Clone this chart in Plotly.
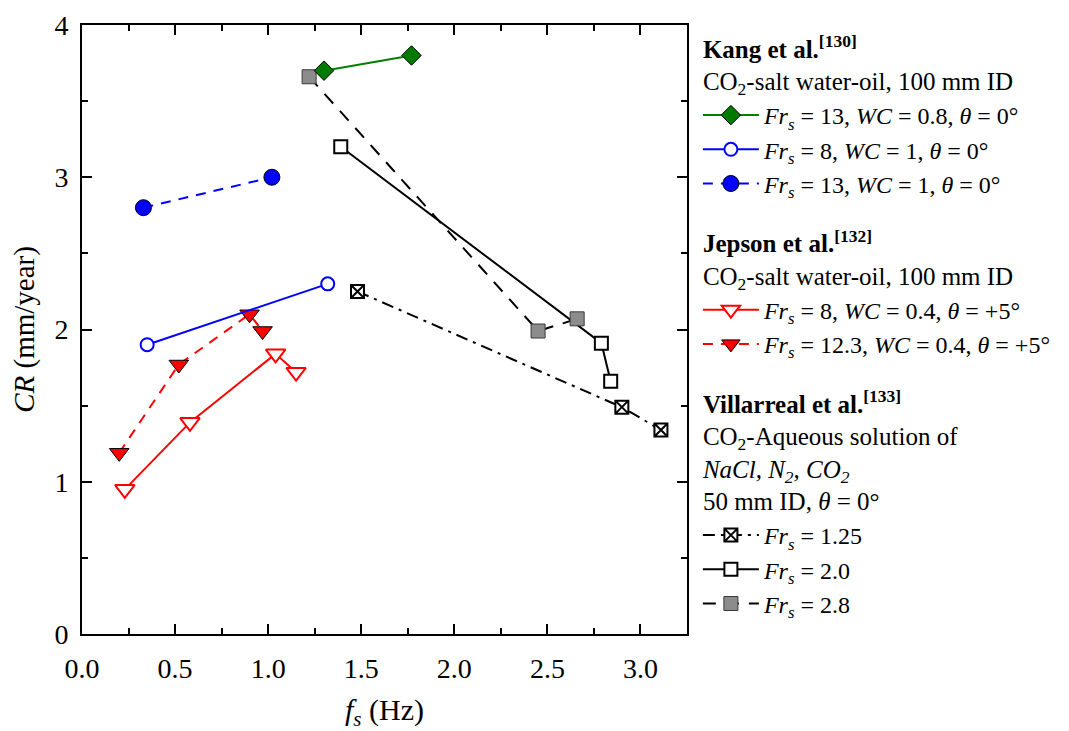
import plotly.graph_objects as go

FONT = "Liberation Serif"

# ---- data ----
# Kang et al. [130]
kang_a_x = [1.30, 1.77]          # Fr_s = 13, WC = 0.8
kang_a_y = [3.70, 3.80]
kang_b_x = [0.35, 1.32]          # Fr_s = 8, WC = 1
kang_b_y = [1.90, 2.30]
kang_c_x = [0.33, 1.02]          # Fr_s = 13, WC = 1
kang_c_y = [2.80, 3.00]
# Jepson et al. [132]
jep_a_x = [0.23, 0.58, 1.04, 1.15]   # Fr_s = 8, WC = 0.4
jep_a_y = [0.95, 1.39, 1.84, 1.72]
jep_b_x = [0.20, 0.52, 0.90, 0.97]   # Fr_s = 12.3, WC = 0.4
jep_b_y = [1.19, 1.77, 2.10, 1.99]
# Villarreal et al. [133]
vil_a_x = [1.48, 2.90, 3.11]     # Fr_s = 1.25
vil_a_y = [2.25, 1.49, 1.34]
vil_b_x = [1.39, 2.79, 2.84]     # Fr_s = 2.0
vil_b_y = [3.20, 1.91, 1.66]
vil_c_x = [1.22, 2.45, 2.66]     # Fr_s = 2.8
vil_c_y = [3.66, 1.99, 2.07]

x_ticks = [0.0, 0.5, 1.0, 1.5, 2.0, 2.5, 3.0]
y_ticks = [0, 1, 2, 3, 4]

LEG_TITLE = 25
LEG = 24
FR = "<i>Fr<sub>s</sub></i>"
TH = "<i>θ</i>"
WC = "<i>WC</i>"

kang_title = "<b>Kang et al.</b><sup><b>[130]</b></sup><br>CO<sub>2</sub>-salt water-oil, 100 mm ID"
jep_title = "<b>Jepson et al.</b><sup><b>[132]</b></sup><br>CO<sub>2</sub>-salt water-oil, 100 mm ID"
vil_title = ("<b>Villarreal et al.</b><sup><b>[133]</b></sup><br>CO<sub>2</sub>-Aqueous solution of"
             "<br><i>NaCl, N<sub>2</sub>, CO<sub>2</sub></i><br>50 mm ID, " + TH + " = 0°")

fig = go.Figure()

def add(x, y, name, group, gtitle, rank, line, marker):
    fig.add_trace(go.Scatter(
        x=x, y=y, mode="lines+markers", name=name,
        legendgroup=group,
        legendgrouptitle=dict(text=gtitle, font=dict(family=FONT, size=LEG_TITLE, color="black")) if gtitle else None,
        legendrank=rank, line=line, marker=marker))

# Villarreal (drawn first so others are on top)
add(vil_a_x, vil_a_y, FR + " = 1.25", "vil", vil_title, 6,
    dict(color="black", width=2, dash="12px,6px,3px,6px"),
    dict(symbol="square-x", size=13, color="white", line=dict(color="black", width=2)))
add(vil_b_x, vil_b_y, FR + " = 2.0", "vil", None, 7,
    dict(color="black", width=2),
    dict(symbol="square", size=13, color="white", line=dict(color="black", width=2)))
add(vil_c_x, vil_c_y, FR + " = 2.8", "vil", None, 8,
    dict(color="black", width=2, dash="13px,10px"),
    dict(symbol="square", size=14, color="#8c8c8c", line=dict(color="#3a3a3a", width=1)))
# Jepson
add(jep_a_x, jep_a_y, FR + " = 8, " + WC + " = 0.4, " + TH + " = +5°", "jep", jep_title, 4,
    dict(color="red", width=2),
    dict(symbol="triangle-down", size=17, color="white", line=dict(color="red", width=2)))
add(jep_b_x, jep_b_y, FR + " = 12.3, " + WC + " = 0.4, " + TH + " = +5°", "jep", None, 5,
    dict(color="red", width=2, dash="10px,8px"),
    dict(symbol="triangle-down", size=17, color="red", line=dict(color="black", width=1)))
# Kang
add(kang_a_x, kang_a_y, FR + " = 13, " + WC + " = 0.8, " + TH + " = 0°", "kang", kang_title, 1,
    dict(color="green", width=2),
    dict(symbol="diamond", size=15, color="#007a00", line=dict(color="black", width=1)))
add(kang_b_x, kang_b_y, FR + " = 8, " + WC + " = 1, " + TH + " = 0°", "kang", None, 2,
    dict(color="blue", width=2),
    dict(symbol="circle", size=13, color="white", line=dict(color="blue", width=2)))
add(kang_c_x, kang_c_y, FR + " = 13, " + WC + " = 1, " + TH + " = 0°", "kang", None, 3,
    dict(color="blue", width=2, dash="10px,8px"),
    dict(symbol="circle", size=16, color="blue", line=dict(color="black", width=1)))

axis_common = dict(
    showline=True, linecolor="black", linewidth=2, mirror="ticks",
    ticks="inside", ticklen=10, tickwidth=2, tickcolor="black",
    showgrid=False, zeroline=False, automargin=False,
    tickfont=dict(family=FONT, size=28, color="black"),
)

fig.update_xaxes(range=[0, 3.25], tickvals=x_ticks, ticktext=[f"{v:.1f}" for v in x_ticks],
                 minor=dict(ticks="inside", ticklen=6, tickwidth=2, tickcolor="black", dtick=0.25, tick0=0),
                 ticklabelstandoff=8,
                 title=dict(text="<i>f<sub>s</sub></i> (Hz)", font=dict(family=FONT, size=30, color="black"),
                            standoff=22),
                 **axis_common)
fig.update_yaxes(range=[0, 4], tickvals=y_ticks, ticktext=[str(v) for v in y_ticks],
                 minor=dict(ticks="inside", ticklen=6, tickwidth=2, tickcolor="black", dtick=0.5, tick0=0),
                 ticklabelstandoff=6,
                 title=dict(text="<i>CR</i> (mm/year)", font=dict(family=FONT, size=29, color="black"),
                            standoff=14),
                 **axis_common)

# the page body adds an 8 px margin, so the figure is 8 px smaller and shifted
fig.update_layout(
    width=1061, height=723,
    margin=dict(l=74, r=382, t=17, b=97),
    plot_bgcolor="white", paper_bgcolor="white",
    font=dict(family=FONT, size=LEG, color="black"),
    legend=dict(x=1.018, y=1.0, xanchor="left", yanchor="top",
                font=dict(family=FONT, size=LEG, color="black"),
                traceorder="grouped", tracegroupgap=24, itemwidth=56,
                maxheight=700,
                bgcolor="rgba(0,0,0,0)"),
    showlegend=True,
)

fig.write_html("out.html")
